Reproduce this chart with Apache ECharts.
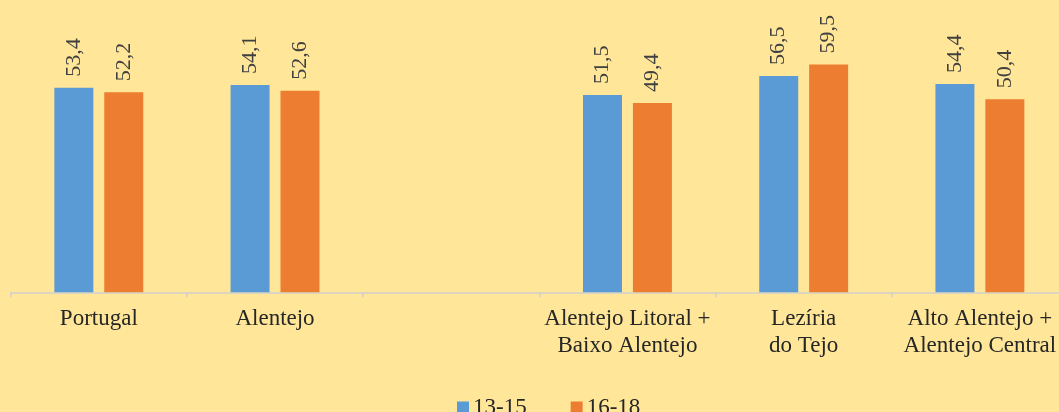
<!DOCTYPE html>
<html>
<head>
<meta charset="utf-8">
<script src="https://cdn.jsdelivr.net/npm/echarts@6/dist/echarts.min.js"></script>
<style>
html,body{margin:0;padding:0;background:#FFE699;}
#chart{width:1059px;height:412px;}
</style>
</head>
<body>
<div id="chart"></div>
<script>
const categories = ['Portugal', 'Alentejo', '', 'Alentejo Litoral +\nBaixo Alentejo', 'Lezíria\ndo Tejo', 'Alto Alentejo +\nAlentejo Central'];
const seriesNames = ['13-15', '16-18'];
const values1315 = [53.4, 54.1, null, 51.5, 56.5, 54.4];
const values1618 = [52.2, 52.6, null, 49.4, 59.5, 50.4];

const font = '"Liberation Serif", "Times New Roman", serif';
const chart = echarts.init(document.getElementById('chart'));
const labelOpt = {
  show: true,
  position: 'top',
  rotate: 90,
  align: 'left',
  verticalAlign: 'middle',
  distance: 11,
  fontFamily: font,
  fontSize: 22,
  color: '#404040',
  formatter: p => p.value == null ? '' : String(p.value).replace('.', ',')
};
chart.setOption({
  backgroundColor: '#FFE699',
  animation: false,
  grid: { left: 10.7, width: 1057.3, top: 24.2, height: 268.1, containLabel: false, outerBoundsMode: 'none' },
  legend: {
    data: seriesNames,
    left: 452,
    top: 391,
    itemWidth: 12,
    itemHeight: 12,
    itemGap: 44,
    icon: 'rect',
    textStyle: { fontFamily: font, fontSize: 23, color: '#262626', padding: [0, 0, 0, -1] }
  },
  xAxis: {
    type: 'category',
    data: categories,
    boundaryGap: true,
    axisLine: { lineStyle: { color: '#D0D0D0', width: 1.5 } },
    axisTick: { show: true, length: 5, lineStyle: { color: '#D0D0D0', width: 1.5 } },
    axisLabel: { interval: 0, margin: 13, fontFamily: font, fontSize: 23, lineHeight: 27, color: '#262626' }
  },
  yAxis: {
    type: 'value',
    min: 0,
    max: 70,
    show: false,
    splitLine: { show: false }
  },
  series: [
    {
      name: seriesNames[0],
      type: 'bar',
      data: values1315,
      barWidth: 39,
      barGap: '28%',
      itemStyle: { color: '#5B9BD5' },
      label: labelOpt
    },
    {
      name: seriesNames[1],
      type: 'bar',
      data: values1618,
      barWidth: 39,
      barGap: '28%',
      itemStyle: { color: '#ED7D31' },
      label: labelOpt
    }
  ]
});
</script>
</body>
</html>
